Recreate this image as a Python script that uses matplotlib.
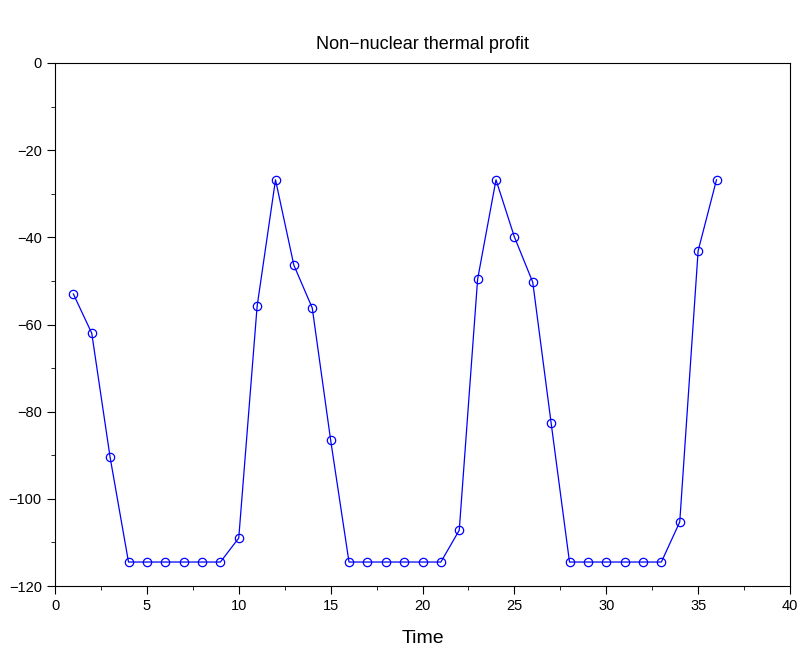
import numpy as np
import matplotlib
matplotlib.use("Agg")
import matplotlib.pyplot as plt
from matplotlib.ticker import MultipleLocator

time = list(range(1, 37))
profit = [-53, -62, -90.5, -114.5, -114.5, -114.5, -114.5, -114.5, -114.5, -109,
          -55.8, -26.8, -46.4, -56.2, -86.5, -114.5, -114.5, -114.5, -114.5, -114.5,
          -114.5, -107.2, -49.6, -26.8, -39.9, -50.3, -82.6, -114.5, -114.5, -114.5,
          -114.5, -114.5, -114.5, -105.3, -43.1, -26.8]

plt.rcParams['font.family'] = ['Liberation Sans', 'DejaVu Sans']
fig = plt.figure(figsize=(7.98, 6.49), dpi=100)
ax = fig.add_axes([55/798, 1-586/649, 735/798, 523/649])
ax.plot(time, profit, color='blue', lw=0.9, marker='o', mfc='none', mec='blue', ms=6, mew=0.9)
ax.set_xlim(0, 40)
ax.set_ylim(-120, 0)
ax.xaxis.set_major_locator(MultipleLocator(5))
ax.xaxis.set_minor_locator(MultipleLocator(2.5))
ax.yaxis.set_major_locator(MultipleLocator(20))
ax.yaxis.set_minor_locator(MultipleLocator(10))
ax.tick_params(which='major', direction='out', length=6, labelsize=10.5)
ax.tick_params(which='minor', direction='out', length=3)
ax.set_xlabel('Time', fontsize=14, labelpad=12)
ax.set_title('Non\u2212nuclear thermal profit', fontsize=13, pad=10)
fig.savefig('out.png', dpi=100)
